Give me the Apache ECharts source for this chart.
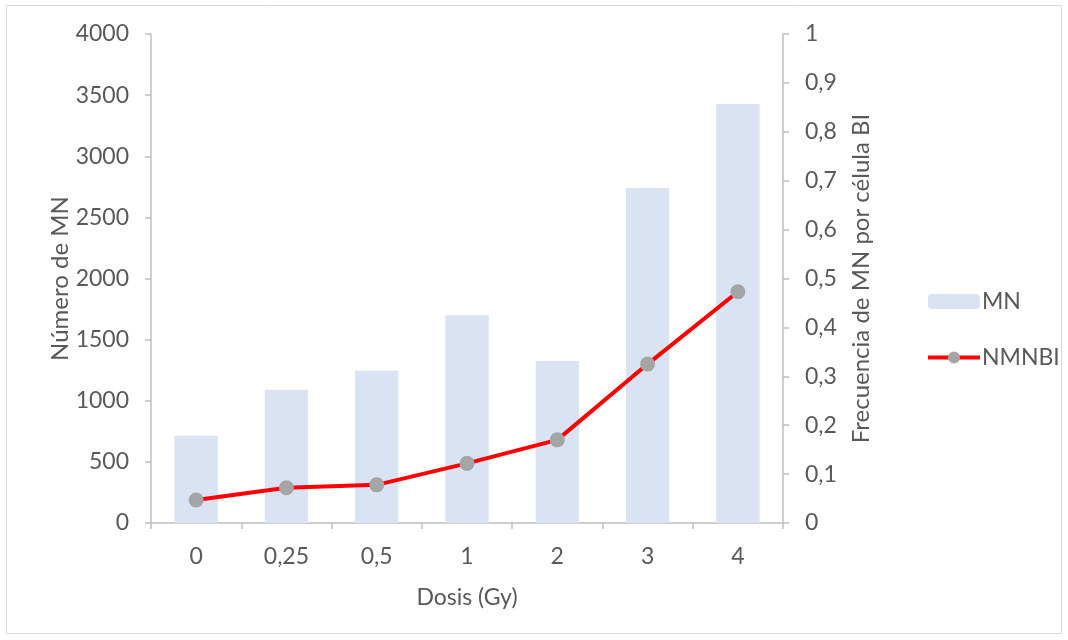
<!DOCTYPE html>
<html>
<head>
<meta charset="utf-8">
<script src="https://cdn.jsdelivr.net/npm/echarts@6/dist/echarts.min.js"></script>
<style>
html,body{margin:0;padding:0;background:#fff;}
#c{width:1068px;height:640px;}
</style>
</head>
<body>
<div id="c"></div>
<script>
const categories = ['0', '0,25', '0,5', '1', '2', '3', '4'];
const mnValues = [714, 1090, 1245, 1700, 1325, 2740, 3427];
const nmnbiValues = [0.047, 0.072, 0.078, 0.122, 0.170, 0.325, 0.473];
const leftTicks = [0, 500, 1000, 1500, 2000, 2500, 3000, 3500, 4000];
const rightTicks = [0, 0.1, 0.2, 0.3, 0.4, 0.5, 0.6, 0.7, 0.8, 0.9, 1];

const FONT = 'Lato, "Open Sans", sans-serif';
const FS = 23;
const TXT = '#595959';
const AX = '#bfbfbf';

const chart = echarts.init(document.getElementById('c'));
chart.setOption({
  animation: false,
  backgroundColor: '#fff',
  textStyle: {fontFamily: FONT},
  graphic: [{
    type: 'rect',
    shape: {x: 6.5, y: 5.5, width: 1055, height: 628},
    style: {fill: 'none', stroke: '#d9d9d9', lineWidth: 1},
    silent: true
  }],
  grid: {left: 151, right: 285, top: 34, bottom: 117},
  legend: {
    orient: 'vertical',
    left: 921,
    top: 285,
    itemWidth: 52,
    itemHeight: 15,
    itemGap: 33,
    lineStyle: {width: 4},
    textStyle: {fontFamily: FONT, fontSize: FS, color: TXT, padding: [0, 0, 0, -3]},
    data: ['MN', 'NMNBI']
  },
  xAxis: {
    type: 'category',
    data: categories,
    name: 'Dosis (Gy)',
    nameLocation: 'middle',
    nameGap: 63,
    nameTextStyle: {fontFamily: FONT, fontSize: FS, color: TXT},
    axisLine: {lineStyle: {color: AX, width: 1.5}},
    axisTick: {show: true, length: 6, lineStyle: {color: AX, width: 1.5}},
    axisLabel: {fontFamily: FONT, fontSize: FS, color: TXT, margin: 22},
    splitLine: {show: false}
  },
  yAxis: [{
    type: 'value',
    min: 0, max: 4000, interval: 500,
    name: 'Número de MN',
    nameLocation: 'middle',
    nameGap: 79,
    nameMoveOverlap: false,
    nameTextStyle: {fontFamily: FONT, fontSize: 24, color: TXT},
    axisLine: {show: true, lineStyle: {color: AX, width: 1.5}},
    axisTick: {show: true, length: 6, lineStyle: {color: AX, width: 1.5}},
    axisLabel: {fontFamily: FONT, fontSize: FS, color: TXT, margin: 22,
      formatter: v => leftTicks.includes(v) ? String(v) : ''},
    splitLine: {show: false}
  }, {
    type: 'value',
    min: 0, max: 1, interval: 0.1,
    position: 'right',
    name: 'Frecuencia de MN por célula BI',
    nameLocation: 'middle',
    nameGap: 66,
    nameMoveOverlap: false,
    nameRotate: 90,
    nameTextStyle: {fontFamily: FONT, fontSize: 24, color: TXT},
    axisLine: {show: true, lineStyle: {color: AX, width: 1.5}},
    axisTick: {show: true, length: 6, lineStyle: {color: AX, width: 1.5}},
    axisLabel: {fontFamily: FONT, fontSize: FS, color: TXT, margin: 22,
      formatter: v => {
        const r = Math.round(v * 10) / 10;
        return rightTicks.includes(r) ? String(r).replace('.', ',') : '';
      }},
    splitLine: {show: false}
  }],
  series: [{
    name: 'MN',
    type: 'bar',
    data: mnValues,
    barWidth: '48%',
    itemStyle: {color: '#dae3f3'},
    yAxisIndex: 0
  }, {
    name: 'NMNBI',
    type: 'line',
    yAxisIndex: 1,
    data: nmnbiValues,
    symbol: 'circle',
    symbolSize: 15,
    lineStyle: {color: '#ff0000', width: 4},
    itemStyle: {color: '#a5a5a5'}
  }]
});
</script>
</body>
</html>
